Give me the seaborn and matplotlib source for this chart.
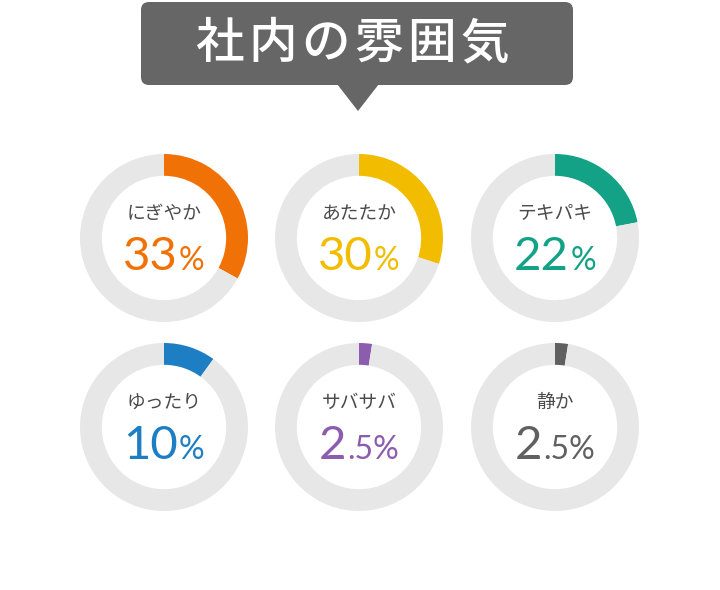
import matplotlib
matplotlib.use('Agg')
import matplotlib.pyplot as plt
import seaborn as sns
from matplotlib.patches import FancyBboxPatch, Polygon

sns.set_theme(style='white')
plt.rcParams['font.family'] = ['Noto Sans CJK JP', 'DejaVu Sans']

# データ
title = '社内の雰囲気'
names = ['にぎやか', 'あたたか', 'テキパキ', 'ゆったり', 'サバサバ', '静か']
values = [33, 30, 22, 10, 2.5, 2.5]
colors = ['#f07106', '#f2bd00', '#13a286', '#1d7ec3', '#8c5caf', '#606060']
ring_color = '#e7e7e7'

fig = plt.figure(figsize=(7.2, 5.9), dpi=100)
fig.patch.set_facecolor('white')

# 全体用のオーバーレイ（ピクセル座標）
ax0 = fig.add_axes([0, 0, 1, 1])
ax0.set_xlim(0, 720)
ax0.set_ylim(590, 0)
ax0.axis('off')

# タイトルの吹き出し
box = FancyBboxPatch((147, 8), 420, 71, boxstyle='round,pad=6,rounding_size=8',
                     fc='#666666', ec='none')
ax0.add_patch(box)
ax0.add_patch(Polygon([(337, 84), (379, 84), (358, 111)], closed=True, fc='#666666', ec='none'))
# 文字間を少し空けて描く
for k, ch in enumerate(title):
    ax0.text(352 + (k - 2.5) * 53, 44, ch, color='white', fontsize=35, fontweight='medium',
             ha='center', va='center')

centers_x = [164, 359, 555]
centers_y = [238, 427]
r = 84

fig.canvas.draw()
renderer = fig.canvas.get_renderer()

for i, (name, v, c) in enumerate(zip(names, values, colors)):
    cx = centers_x[i % 3]
    cy = centers_y[i // 3]
    ax = fig.add_axes([(cx - r) / 720, 1 - (cy + r) / 590, 2 * r / 720, 2 * r / 590])
    ax.pie([v, 100 - v], colors=[c, ring_color], startangle=90, counterclock=False,
           wedgeprops=dict(width=0.26, linewidth=0))
    ax.set_xlim(-1, 1)
    ax.set_ylim(-1, 1)
    ax.set_aspect('equal')
    ax.axis('off')

    ax0.text(cx, cy - 25, name, color='#4a4a4a', fontsize=13.5, ha='center', va='center')

    # 数値（大きい部分と小さい部分）
    s = f'{v:g}'
    big, rest = (s.split('.')[0], '.' + s.split('.')[1] + '%') if '.' in s else (s, '%')
    t1 = ax0.text(0, cy + 32, big, color=c, fontsize=34, family='Lato', ha='left', va='baseline')
    t2 = ax0.text(0, cy + 32, rest, color=c, fontsize=23, family='Lato', ha='left', va='baseline')
    w1 = t1.get_window_extent(renderer).width
    w2 = t2.get_window_extent(renderer).width
    x0 = cx - (w1 + w2 + 1) / 2
    t1.set_x(x0)
    t2.set_x(x0 + w1 + 1)

fig.savefig('out.png', dpi=100, facecolor='white')
